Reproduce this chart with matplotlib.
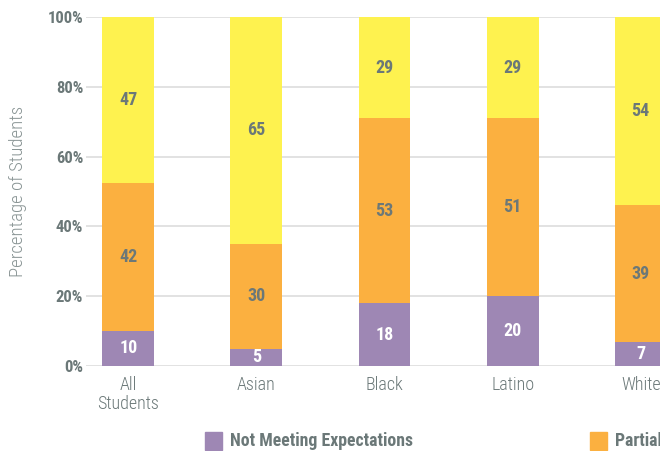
import matplotlib.pyplot as plt
from matplotlib.patches import Rectangle
import numpy as np

# data
groups = ['All\nStudents', 'Asian', 'Black', 'Latino', 'White']
not_meeting = [10, 5, 18, 20, 7]
partially = [42, 30, 53, 51, 39]
meeting = [47, 65, 29, 29, 54]
series_names = ['Not Meeting Expectations', 'Partially Meeting Expectations',
                'Meeting or Exceeding Expectations']
yticks = [0, 20, 40, 60, 80, 100]

colors = ['#9e87b4', '#fbb040', '#fef24f']
label_colors = ['white', '#6b7878', '#6b7878']
gray = '#6b7878'

plt.rcParams['font.family'] = ['Roboto Condensed', 'DejaVu Sans']

fig = plt.figure(figsize=(6.6, 4.51), dpi=100)
# axes runs past the right edge, like the cropped original
ax = fig.add_axes([86 / 660, 1 - 366 / 451, 597 / 660, 349 / 451])

x = np.arange(len(groups))
data = np.array([not_meeting, partially, meeting], dtype=float)
# 100% stacked: scale each column to its total
heights = data / data.sum(axis=0) * 100

bottom = np.zeros(len(groups))
for i in range(3):
    bars = ax.bar(x, heights[i], 0.405, bottom=bottom, color=colors[i], zorder=2)
    for b, v, h, bt in zip(bars, data[i], heights[i], bottom):
        ax.text(b.get_x() + b.get_width() / 2, bt + h / 2, f'{int(v)}',
                ha='center', va='center', fontsize=13, fontweight='bold',
                color=label_colors[i], zorder=3)
    bottom += heights[i]

ax.set_xlim(-0.33, 4.33)
ax.set_ylim(0, 100)
ax.set_yticks(yticks)
ax.set_yticklabels([f'{t}%' for t in yticks], fontsize=12, fontweight='bold', color=gray)
ax.set_xticks(x)
ax.set_xticklabels(groups, fontsize=13, color=gray, fontweight='light', linespacing=1.1)
ax.tick_params(length=0, pad=2)
ax.tick_params(axis='x', pad=7)
ax.grid(axis='y', color='#dddddd', lw=1.2, zorder=0)
for s in ax.spines.values():
    s.set_visible(False)
ax.set_ylabel('Percentage of Students', fontsize=13.5, color='#8a9595',
              fontweight='light', labelpad=15)

# legend drawn by hand so the entries can sit where the original puts them
leg_x = [205, 590, 975]
for name, c, lx in zip(series_names, colors, leg_x):
    fig.add_artist(Rectangle((lx / 660, 1 - 450 / 451), 17 / 660, 18 / 451,
                             transform=fig.transFigure, color=c))
    fig.text((lx + 25) / 660, 1 - 441 / 451, name, fontsize=12.8,
             fontweight='bold', color=gray, va='center')

fig.savefig('out.png', dpi=100)
